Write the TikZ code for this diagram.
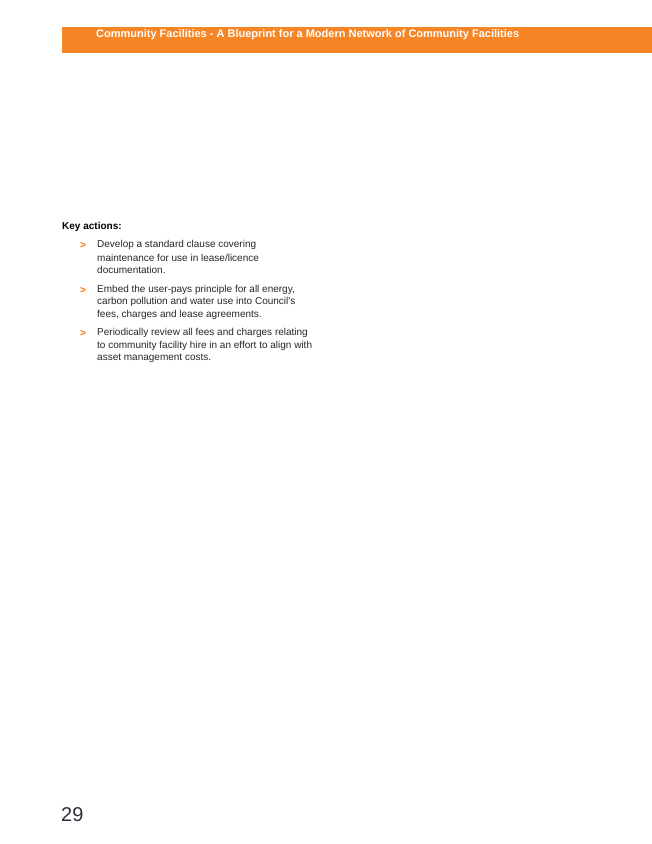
\documentclass[tikz,border=0pt]{standalone}
\usepackage{fontspec}
\setmainfont{Liberation Sans}
\begin{document}
\begin{tikzpicture}[x=1pt,y=-1pt,
  line/.style={anchor=west,inner sep=0pt,font=\fontsize{10}{11}\selectfont,text=black!85},
  bul/.style={anchor=west,inner sep=0pt,font=\fontsize{10}{11}\selectfont\bfseries,text=orange!85!red}]
\useasboundingbox (0,0) rectangle (652,844);
\fill[color={rgb,255:red,246;green,133;blue,38}] (62,27) rectangle (652,53);
\node[anchor=west,inner sep=0pt,text=white,font=\fontsize{11}{12}\selectfont\bfseries] (title) at (96,35) {Community Facilities - A Blueprint for a Modern Network of Community Facilities};
\node[line,font=\fontsize{10}{11}\selectfont\bfseries,text=black] (key) at (62,227) {Key actions:};
\node[bul] (b1) at (80,245) {>};
\node[line] (l11) at (97,245) {Develop a standard clause covering};
\node[line] (l12) at (97,257.5) {maintenance for use in lease/licence};
\node[line] (l13) at (97,270) {documentation.};
\node[bul] (b2) at (80,290) {>};
\node[line] (l21) at (97,290) {Embed the user-pays principle for all energy,};
\node[line] (l22) at (97,302) {carbon pollution and water use into Council's};
\node[line] (l23) at (97,314.5) {fees, charges and lease agreements.};
\node[bul] (b3) at (80,333) {>};
\node[line] (l31) at (97,333) {Periodically review all fees and charges relating};
\node[line] (l32) at (97,345.5) {to community facility hire in an effort to align with};
\node[line] (l33) at (97,358) {asset management costs.};
\node[anchor=west,inner sep=0pt,text={rgb,255:red,40;green,45;blue,55},font=\fontsize{20}{22}\selectfont] (pg) at (61,815) {29};
\end{tikzpicture}
\end{document}
